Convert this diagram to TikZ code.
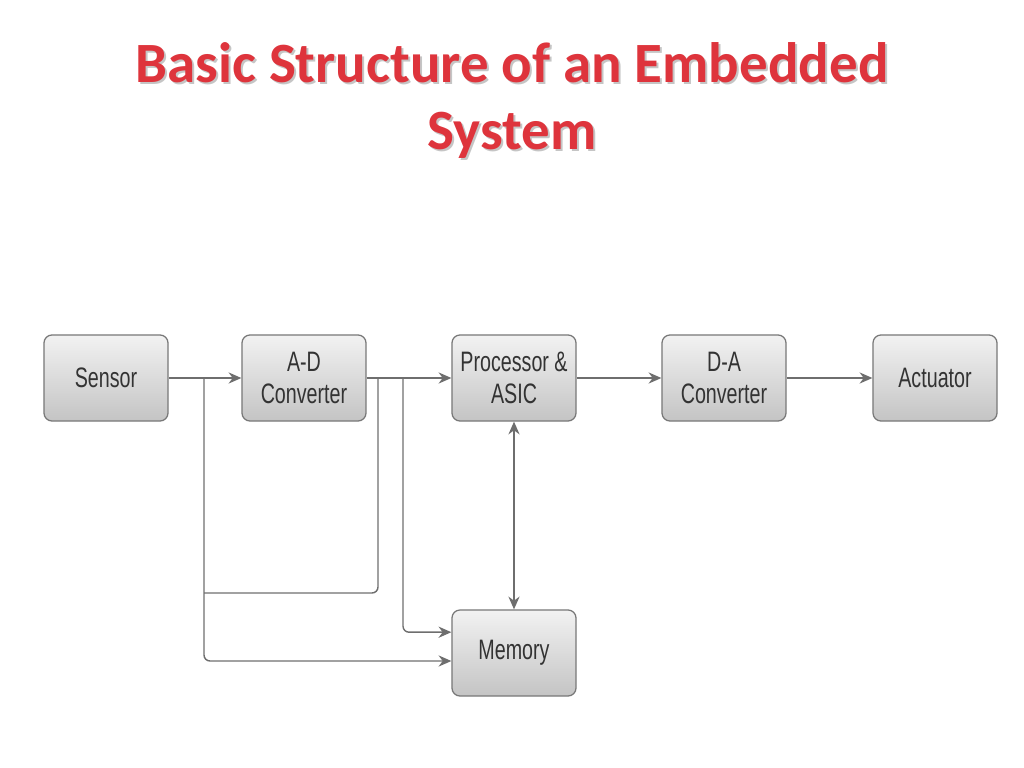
\documentclass[tikz,border=0pt]{standalone}
\usepackage{fontspec}
\setmainfont{Liberation Sans}
\newfontfamily\titelfont{Carlito}
\newfontfamily\boxfont[FakeStretch=0.7]{Liberation Sans}
\usetikzlibrary{arrows.meta,calc}
\definecolor{titelrot}{RGB}{222,52,60}
\definecolor{linie}{RGB}{110,110,110}
\definecolor{rand}{RGB}{120,120,120}
\definecolor{boxoben}{RGB}{242,242,242}
\definecolor{boxunten}{RGB}{196,196,196}
\tikzset{
  block/.style={draw=rand, line width=0.9pt, rounded corners=0.2cm,
    top color=boxoben, bottom color=boxunten,
    minimum width=3.1cm, minimum height=2.15cm, inner sep=0pt,
    align=center, text=black!80,
    font=\boxfont\fontsize{20}{23}\selectfont},
  verb/.style={draw=linie, line width=1pt, rounded corners=0.15cm},
  pfeil/.style={verb, -{Stealth[length=0.32cm,width=0.28cm]}},
  doppelpfeil/.style={verb, {Stealth[length=0.32cm,width=0.28cm]}-{Stealth[length=0.32cm,width=0.28cm]}},
  titel/.style={font=\titelfont\bfseries\fontsize{40.5}{48}\selectfont, inner sep=0pt}
}
\begin{document}
\begin{tikzpicture}[x=0.025cm, y=-0.025cm]
  \useasboundingbox (0,0) rectangle (1024,768);
  % Titel
  \node[titel, text=black!45, opacity=0.5, anchor=base] (schatten1) at (514,85) {Basic Structure of an Embedded};
  \node[titel, text=black!45, opacity=0.5, anchor=base] (schatten2) at (514,152) {System};
  \node[titel, text=titelrot, anchor=base] (titel1) at (512,83) {Basic Structure of an Embedded};
  \node[titel, text=titelrot, anchor=base] (titel2) at (512,150) {System};
  % Bloecke
  \node[block] (sensor) at (106,378) {Sensor};
  \node[block] (adc) at (304,378) {A-D\\Converter};
  \node[block] (cpu) at (514,378) {Processor \&\\ASIC};
  \node[block] (dac) at (724,378) {D-A\\Converter};
  \node[block] (akt) at (935,378) {Actuator};
  \node[block] (mem) at (514,653) {Memory};
  % Abzweigpunkte
  \coordinate (s1) at (204,378);
  \coordinate (s2) at (204,593);
  \coordinate (a1) at (378,378);
  \coordinate (a2) at (403,378);
  % Hauptkette
  \draw[pfeil] (sensor) -- (adc);
  \draw[pfeil] (adc) -- (cpu);
  \draw[pfeil] (cpu) -- (dac);
  \draw[pfeil] (dac) -- (akt);
  % Speicher
  \draw[doppelpfeil] (cpu) -- (mem);
  \draw[pfeil] (s1) |- ([yshift=-0.2cm]mem.west);
  \draw[pfeil] (a2) |- ([yshift=0.52cm]mem.west);
  \draw[verb] (a1) |- (s2);
\end{tikzpicture}
\end{document}
